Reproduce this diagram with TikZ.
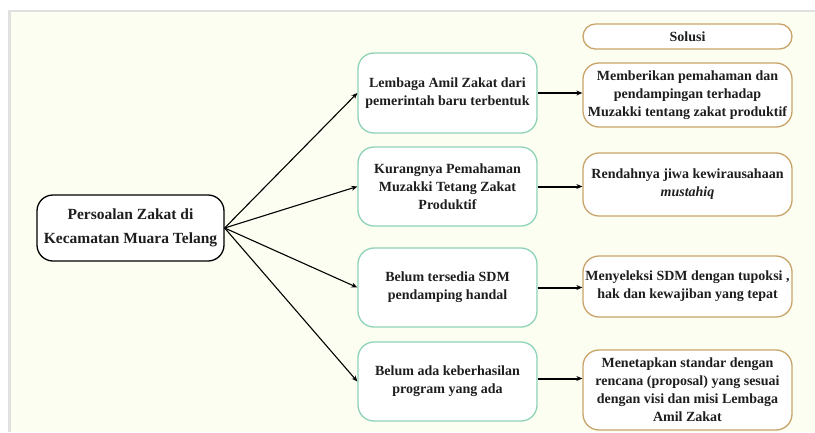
\documentclass[tikz,border=0pt]{standalone}
\usepackage{fontspec}
\setmainfont{Liberation Serif}
\usetikzlibrary{arrows.meta}
\definecolor{creambg}{HTML}{FCFEF1}
\definecolor{mintline}{HTML}{8ED2B8}
\definecolor{goldline}{HTML}{C9A46A}
\definecolor{inktext}{HTML}{1E1E1E}
\begin{document}
\begin{tikzpicture}[x=1pt,y=-1pt,
  basebox/.style={fill=white, line width=1.3pt, rounded corners=16pt, align=center, text=inktext, inner sep=1pt},
  mainbox/.style={basebox, draw=black, minimum width=187pt, minimum height=66pt, font=\fontsize{15.5}{24}\selectfont\bfseries},
  probbox/.style={basebox, draw=mintline, minimum width=179pt, minimum height=80pt, font=\fontsize{14}{18}\selectfont\bfseries},
  solbox/.style={basebox, draw=goldline, minimum width=209pt, minimum height=64pt, font=\fontsize{14}{18}\selectfont\bfseries},
  thinarr/.style={-{Stealth[length=6pt,width=5pt]}, line width=1.1pt, black},
  thickarr/.style={-{Stealth[length=6pt,width=5pt]}, line width=2pt, black}
]
\useasboundingbox (0,0) rectangle (815,432);
\fill[white] (0,0) rectangle (815,432);
\fill[black!12] (8,10) rectangle (815,432);
\fill[creambg] (11,12) rectangle (815,432);

\node[mainbox] (main) at (130.5,228) {Persoalan Zakat di\\Kecamatan Muara Telang};

\node[probbox] (p1) at (447.5,93) {Lembaga Amil Zakat dari\\pemerintah baru terbentuk};
\node[probbox, minimum height=79pt] (p2) at (447.5,186.5) {Kurangnya Pemahaman\\Muzakki Tetang Zakat\\Produktif};
\node[probbox, minimum height=79pt] (p3) at (447.5,287.5) {Belum tersedia SDM\\pendamping handal};
\node[probbox, minimum height=79pt] (p4) at (447.5,381.5) {Belum ada keberhasilan\\program yang ada};

\node[solbox, minimum height=25pt, rounded corners=12.5pt] (sol) at (687.5,36.5) {Solusi};
\node[solbox] (s1) at (687.5,95) {Memberikan pemahaman dan\\pendampingan terhadap\\Muzakki tentang zakat produktif};
\node[solbox, minimum height=63pt] (s2) at (687.5,184.5) {Rendahnya jiwa kewirausahaan\\\textit{mustahiq}};
\node[solbox, minimum height=61pt] (s3) at (687.5,286.5) {Menyeleksi SDM dengan tupoksi ,\\hak dan kewajiban yang tepat};
\node[solbox, minimum height=80pt] (s4) at (687.5,390) {Menetapkan standar dengan\\rencana (proposal) yang sesuai\\dengan visi dan misi Lembaga\\Amil Zakat};

\foreach \p in {p1,p2,p3,p4}
  \draw[thinarr] (main.east) -- (\p.west);

\draw[thickarr] (p1.east) -- (p1.east -| s1.west);
\draw[thickarr] (p2.east) -- (p2.east -| s2.west);
\draw[thickarr] (p3.east) -- (p3.east -| s3.west);
\draw[thickarr] ([yshift=3pt]p4.east) -- ([yshift=3pt]p4.east -| s4.west);
\end{tikzpicture}
\end{document}
